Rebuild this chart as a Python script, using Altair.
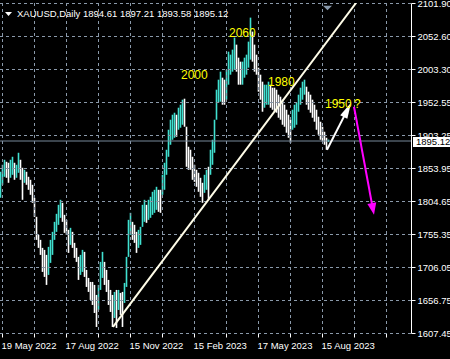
import altair as alt
import pandas as pd
import numpy as np

# ---- data (bar index ~ trading day, prices in USD) ----
bar_index = list(range(0, 330, 2))
highs = [
    1849, 1859.5, 1867, 1864, 1862.5, 1867, 1871.5, 1862.5, 1859.5, 1877.5,
    1867, 1855, 1852, 1849, 1841.5, 1837, 1829.5, 1810, 1781.5, 1754.5,
    1747, 1735, 1732, 1724.5, 1736.5, 1747, 1759, 1774, 1786, 1799.5,
    1807, 1802.5, 1784.5, 1777, 1762, 1765, 1759, 1742.5, 1735, 1721.5,
    1724.5, 1732, 1729, 1702, 1690, 1684, 1684, 1679.5, 1664.5, 1679.5,
    1714, 1729, 1714, 1702, 1687, 1672, 1664.5, 1669, 1672, 1672,
    1667.5, 1669, 1682.5, 1721.5, 1777, 1787.5, 1774, 1769.5, 1759, 1762,
    1766.5, 1799.5, 1807, 1799.5, 1807, 1811.5, 1819, 1822, 1826.5, 1822,
    1822, 1844.5, 1862.5, 1882, 1912, 1927, 1934.5, 1937.5, 1934.5, 1945,
    1949.5, 1957, 1958.5, 1916.5, 1886.5, 1882, 1871.5, 1859.5, 1852, 1847.5,
    1840, 1832.5, 1844.5, 1852, 1856.5, 1882, 1897, 1927, 1972, 1987,
    1999, 1990, 1987, 2002, 2029, 2024.5, 2032, 2050, 2039.5, 2020,
    2014, 2014, 2020, 2024.5, 2044, 2080, 2059, 2039.5, 2024.5, 2005,
    1994.5, 1984, 1979.5, 1979.5, 1984, 1979.5, 1975, 1975, 1972, 1964.5,
    1961.5, 1957, 1949.5, 1942, 1934.5, 1927, 1942, 1949.5, 1952.5, 1964.5,
    1975, 1984, 1987, 1976.5, 1969, 1964.5, 1957, 1949.5, 1942, 1931.5,
    1924, 1916.5, 1909, 1900, 1897.21,
]
lows = [
    1810, 1829.5, 1841.5, 1840, 1832.5, 1840, 1844.5, 1837, 1840, 1847.5,
    1837, 1807, 1832.5, 1829.5, 1822, 1814.5, 1802.5, 1781.5, 1747, 1735,
    1724.5, 1699, 1691.5, 1679.5, 1694.5, 1712.5, 1724.5, 1747, 1759, 1769.5,
    1780, 1774, 1757.5, 1754.5, 1727.5, 1739.5, 1735, 1720, 1714, 1687,
    1694.5, 1699, 1691.5, 1676.5, 1669, 1657, 1649.5, 1637.5, 1616.5, 1642,
    1672, 1690, 1679.5, 1669, 1649.5, 1639, 1616.5, 1630, 1615, 1642,
    1634.5, 1616.5, 1652.5, 1676.5, 1721.5, 1754.5, 1747, 1742.5, 1727.5, 1735,
    1739.5, 1766.5, 1774, 1772.5, 1777, 1780, 1784.5, 1787.5, 1792, 1789,
    1787.5, 1814.5, 1822, 1844.5, 1871.5, 1889.5, 1897, 1900, 1901.5, 1912,
    1915, 1919.5, 1916.5, 1856.5, 1852, 1852, 1837, 1834, 1826.5, 1819,
    1811.5, 1802.5, 1817.5, 1822, 1807, 1844.5, 1859.5, 1877.5, 1927, 1952.5,
    1954, 1949.5, 1949.5, 1957, 1979.5, 1994.5, 1999, 2002, 1999, 1979.5,
    1979.5, 1979.5, 1990, 1994.5, 2005, 2017, 2014, 1999, 1994.5, 1969,
    1957, 1939, 1945, 1949.5, 1949.5, 1945, 1942, 1939, 1937.5, 1930,
    1927, 1919.5, 1916.5, 1907.5, 1900, 1892.5, 1912, 1915, 1919.5, 1939,
    1949.5, 1957, 1964.5, 1949.5, 1942, 1937.5, 1930, 1924, 1912, 1904.5,
    1897, 1894, 1889.5, 1882, 1893.58,
]

current_price = 1895.12
header_text = "XAUUSD,Daily  1894.61 1897.21 1893.58 1895.12"

date_tick_bars = [2, 66, 130, 194, 258, 322]
date_tick_labels = ["19 May 2022", "17 Aug 2022", "15 Nov 2022",
                    "15 Feb 2023", "17 May 2023", "15 Aug 2023"]
price_tick_labels = ["1607.45", "1656.75", "1706.05", "1755.35", "1804.65", "1853.95",
                     "1903.25", "1952.55", "2003.30", "2052.60", "2101.90"]

note_texts = ["2000", "2060", "1980", "1950", "?"]
note_bars = [181, 229, 268, 325, 354]
note_prices = [1994.5, 2057.5, 1984, 1951, 1951]

trend_bars = [113, 356]
trend_prices = [1616.5, 2101.9]

up_arrow_bars = [327, 347.4]
up_arrow_prices = [1882, 1941.8]
down_arrow_bars = [354, 372.9]
down_arrow_prices = [1946.5, 1793.3]

# ---- scales & axes (shared identically by every layer) ----
W, H = 411, 330
Y_MIN, Y_MAX = 1607.45, 2101.90
x_scale = alt.Scale(domain=[0, W], nice=False, zero=False)
y_scale = alt.Scale(domain=[Y_MIN, Y_MAX], nice=False, zero=False)

grid_x = list(range(2, W, 32))
y_ticks = [round(float(v), 4) for v in np.linspace(Y_MIN, Y_MAX, 11)]
step = (Y_MAX - Y_MIN) / 10

x_label_expr = " : ".join(
    f"datum.value == {b} ? '{t}'" for b, t in zip(date_tick_bars, date_tick_labels)
) + " : ''"
y_label_expr = ("[" + ",".join(f"'{t}'" for t in price_tick_labels) + "]"
                f"[round((datum.value - {Y_MIN}) / {step})]")

FONT = "Liberation Sans"
GRID = "#8A99AA"

x_axis = alt.Axis(values=grid_x, grid=False, domain=False, ticks=True, tickColor="white",
                  tickSize=4, labelExpr=x_label_expr, labelAlign="left",
                  labelBaseline="top", labelPadding=3, labelFlush=False,
                  labelOverlap=False, labelColor="white", labelFont=FONT,
                  labelFontSize=9.5, labelOffset=-1, title=None)
y_axis = alt.Axis(orient="right", values=y_ticks, grid=False, domain=True,
                  domainColor="white", domainWidth=1, ticks=True, tickColor="white",
                  tickSize=4, labelExpr=y_label_expr, labelAlign="left",
                  labelBaseline="middle", labelPadding=2, labelColor="white",
                  labelFont=FONT, labelFontSize=9.5, labelOverlap=False,
                  labelFlush=False, title=None)


def X(field):
    return alt.X(field, scale=x_scale, axis=x_axis, title=None)


def Y(field):
    return alt.Y(field, scale=y_scale, axis=y_axis, title=None)


df = pd.DataFrame({"bar": bar_index, "high": highs, "low": lows})
mid = (df["high"] + df["low"]) / 2
df["dir"] = np.where(mid.diff().fillna(0) >= 0, "up", "down")

bars = alt.Chart(df).mark_rule(strokeWidth=1.6, xOffset=0.5).encode(
    x=X("bar:Q"),
    y=Y("low:Q"),
    y2="high:Q",
    color=alt.Color("dir:N", scale=alt.Scale(domain=["up", "down"],
                                             range=["#40E0D0", "#FFFFFF"]), legend=None),
)

# ---- dashed grid: each dash drawn as its own short rule (3 px on, 3 px off) ----
ppp = (Y_MAX - Y_MIN) / H
vrows = [(g, Y_MAX - s * ppp, Y_MAX - (s + 3) * ppp) for g in grid_x for s in range(0, H, 6)]
vgrid_df = pd.DataFrame(vrows, columns=["g", "p0", "p1"])
hrows = [(g, s, s + 3) for g in y_ticks for s in range(0, W, 6)]
hgrid_df = pd.DataFrame(hrows, columns=["g", "b0", "b1"])

vgrid = alt.Chart(vgrid_df).mark_rule(strokeWidth=1, xOffset=0.5).encode(
    x=X("g:Q"), y=Y("p0:Q"), y2="p1:Q", color=alt.value(GRID))
hgrid = alt.Chart(hgrid_df).mark_rule(strokeWidth=1, yOffset=0.5).encode(
    y=Y("g:Q"), x=X("b0:Q"), x2="b1:Q", color=alt.value(GRID))

cur_df = pd.DataFrame({"price": [current_price], "label": [f"{current_price:.2f}"]})
bid_line = alt.Chart(cur_df).mark_rule(color="#778899", strokeWidth=1).encode(
    y=Y("price:Q"), x=alt.value(0), x2=alt.value(W),
)
bid_box = alt.Chart(cur_df).transform_calculate(
    top="datum.price + 6", bot="datum.price - 9"
).mark_rect(color="white").encode(
    y=Y("top:Q"), y2="bot:Q", x=alt.value(413), x2=alt.value(450),
)
bid_text = alt.Chart(cur_df).mark_text(
    align="left", baseline="middle", font=FONT, fontSize=9.5, color="black", dy=1
).encode(y=Y("price:Q"), x=alt.value(416), text="label:N")

trend_df = pd.DataFrame({"bar": trend_bars, "price": trend_prices})
trend = alt.Chart(trend_df).mark_line(color="#FFFDE8", strokeWidth=2, clip=True).encode(
    x=X("bar:Q"), y=Y("price:Q"))

up_df = pd.DataFrame({"bar": up_arrow_bars, "price": up_arrow_prices})
up_line = alt.Chart(up_df).mark_line(color="white", strokeWidth=2).encode(
    x=X("bar:Q"), y=Y("price:Q"))
up_head = alt.Chart(up_df.iloc[[1]]).mark_point(
    shape="M0,-1L0.5,1L-0.5,1Z", size=256, angle=27, filled=True, color="white", opacity=1
).encode(x=X("bar:Q"), y=Y("price:Q"))

dn_df = pd.DataFrame({"bar": down_arrow_bars, "price": down_arrow_prices})
dn_line = alt.Chart(dn_df).mark_line(color="#FF00FF", strokeWidth=2).encode(
    x=X("bar:Q"), y=Y("price:Q"))
dn_head = alt.Chart(dn_df.iloc[[1]]).mark_point(
    shape="M0,-1L0.75,1L-0.75,1Z", size=144, angle=169.5, filled=True, color="#FF00FF",
    opacity=1
).encode(x=X("bar:Q"), y=Y("price:Q"))

note_df = pd.DataFrame({"bar": note_bars, "price": note_prices, "text": note_texts})
notes = alt.Chart(note_df).mark_text(
    align="left", baseline="middle", font=FONT, fontSize=12, color="#FFFF00"
).encode(x=X("bar:Q"), y=Y("price:Q"), text="text:N")

hdr_df = pd.DataFrame({"text": [header_text]})
header = alt.Chart(hdr_df).mark_text(
    align="left", baseline="middle", font=FONT, fontSize=9.5, color="white"
).encode(x=alt.value(17), y=alt.value(11), text="text:N")
hdr_tri = alt.Chart(hdr_df).mark_point(
    shape="M-1,-0.6L1,-0.6L0,0.6Z", size=49, filled=True, color="white", opacity=1
).encode(x=alt.value(8.5), y=alt.value(11))
shift_tri = alt.Chart(hdr_df).mark_point(
    shape="M-1,-0.5L1,-0.5L0,0.5Z", size=81, filled=True, color="#8899AA", opacity=1
).encode(x=alt.value(327.5), y=alt.value(5))

chart = alt.layer(
    bars, vgrid, hgrid, bid_line, trend, up_line, up_head, dn_line, dn_head, notes,
    bid_box, bid_text, header, hdr_tri, shift_tri
).properties(
    width=W, height=H, background="black",
    padding={"left": 0, "top": 3, "right": 39, "bottom": 26},
    autosize=alt.AutoSizeParams(type="none"),
).configure_view(strokeWidth=0)

chart.save("out.html", embed_options={"renderer": "svg", "actions": False})
